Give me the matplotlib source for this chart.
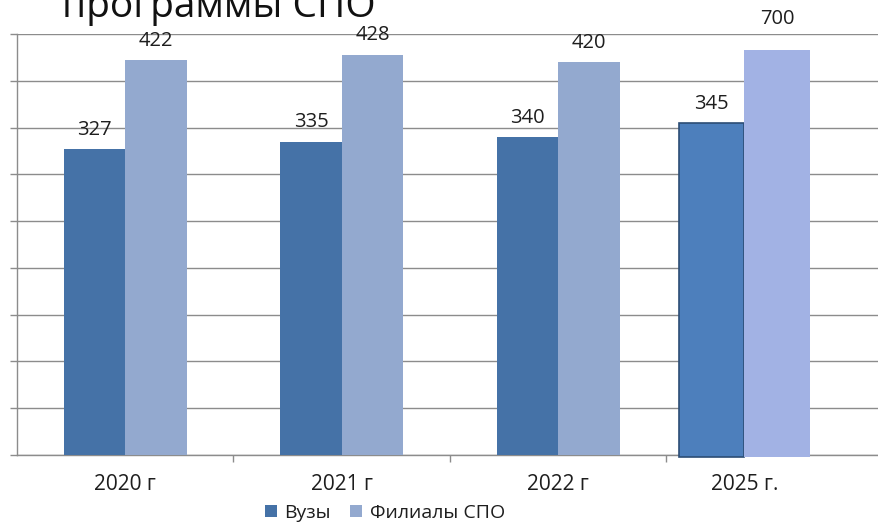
import numpy as np
import matplotlib.pyplot as plt

plt.rcParams["font.family"] = ["Open Sans", "DejaVu Sans"]

# ── Data ──────────────────────────────────────────────────────────────────────
years = ["2020 г", "2021 г", "2022 г", "2025 г."]
series_names = ["Вузы", "Филиалы СПО"]
# bar heights as drawn in the picture (the 2025 pair is not to scale)
vuzy_heights = [327, 335, 340, 355]
spo_heights = [422, 428, 420, 433]
# printed value labels
vuzy_labels = ["327", "335", "340", "345"]
spo_labels = ["422", "428", "420", "700"]

VUZY_COLOR = "#4572a7"
SPO_COLOR = "#93a9cf"
VUZY_2025 = "#4d7fbc"
VUZY_2025_EDGE = "#2c4d74"
SPO_2025 = "#a2b2e4"
GRID_COLOR = "#8c8c8c"
TEXT_COLOR = "#1e1e1e"

# ── Figure ────────────────────────────────────────────────────────────────────
fig = plt.figure(figsize=(8.79, 5.24), dpi=100)
ax = fig.add_axes([17 / 879, 69 / 524, 866 / 879, 421 / 524])

x = np.arange(len(years), dtype=float)
x[-1] -= 0.14          # last group sits a bit left in the original
widths = np.array([0.284, 0.284, 0.284, 0.302])

vuzy_colors = [VUZY_COLOR] * 3 + [VUZY_2025]
spo_colors = [SPO_COLOR] * 3 + [SPO_2025]

b1 = ax.bar(x - widths / 2, vuzy_heights, widths, color=vuzy_colors,
            label=series_names[0], zorder=3)
b2 = ax.bar(x + widths / 2, spo_heights, widths, color=spo_colors,
            label=series_names[1], zorder=3)
b1[-1].set_edgecolor(VUZY_2025_EDGE)
b1[-1].set_linewidth(1.2)
for b in (b1[-1], b2[-1]):
    b.set_y(-2.5)
    b.set_height(b.get_height() + 2.5)
    b.set_clip_on(False)

# value labels
for i in range(len(years)):
    ax.text(x[i] - widths[i] / 2, vuzy_heights[i] + 10, vuzy_labels[i],
            ha="center", va="bottom", fontsize=14.5, color=TEXT_COLOR, zorder=4)
    off = 22 if i == len(years) - 1 else 10
    ax.text(x[i] + widths[i] / 2, spo_heights[i] + off, spo_labels[i],
            ha="center", va="bottom", fontsize=14.5, color=TEXT_COLOR, zorder=4,
            clip_on=False)

# axes
ax.set_xlim(-0.5, 3.5)
ax.set_ylim(0, 450)
ax.set_yticks(np.arange(0, 451, 50))
ax.set_yticklabels([])
ax.yaxis.grid(True, color=GRID_COLOR, lw=1.0, zorder=0)
ax.set_axisbelow(True)

ax.set_xticks(np.arange(len(years)) + 0.5, minor=True)
ax.set_xticks(x)
ax.set_xticklabels(years, fontsize=15, color=TEXT_COLOR)
ax.tick_params(axis="x", which="major", length=0, pad=14)
ax.tick_params(axis="x", which="minor", length=5, color=GRID_COLOR, width=1)
ax.tick_params(axis="y", length=5, color=GRID_COLOR, width=1)

for side in ("top", "right"):
    ax.spines[side].set_visible(False)
for side in ("left", "bottom"):
    ax.spines[side].set_color(GRID_COLOR)
    ax.spines[side].set_linewidth(1.0)

# legend
fig.legend(handles=[b1[0], b2[0]], labels=series_names, loc="center",
           bbox_to_anchor=(385 / 879, 11 / 524), ncol=2, frameon=False,
           fontsize=14, handlelength=0.6, handleheight=0.6,
           handletextpad=0.4, columnspacing=1.0, labelcolor=TEXT_COLOR)

# partly cut-off title at the top
fig.text(62 / 879, 1 - 17 / 524, "программы СПО", fontsize=28,
         ha="left", va="baseline", color="#111111")

fig.savefig("out.png", dpi=100)
